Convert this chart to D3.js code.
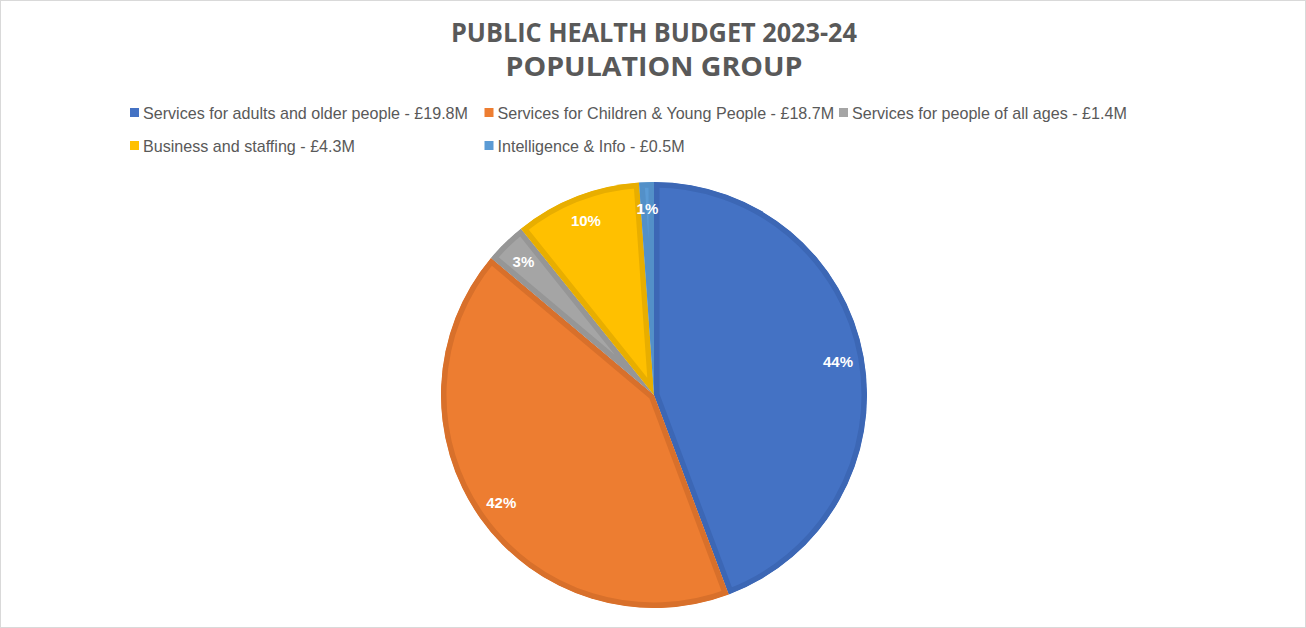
<!DOCTYPE html>
<html>
<head>
<meta charset="utf-8">
<script src="https://cdn.jsdelivr.net/npm/d3@7/dist/d3.min.js"></script>
<style>
  html, body { margin: 0; padding: 0; background: #fff; }
  svg { display: block; }
</style>
</head>
<body>
<svg id="chart" width="1306" height="628"></svg>
<script>
// Public health budget 2023-24 by population group (£M)
const titleLines = ["PUBLIC HEALTH BUDGET 2023-24", "POPULATION GROUP"];
const categories = [
  "Services for adults and older people",
  "Services for Children & Young People",
  "Services for people of all ages",
  "Business and staffing",
  "Intelligence & Info"
];
const budgets = [19.8, 18.7, 1.4, 4.3, 0.5];
const legendLabels = [
  "Services for adults and older people - £19.8M",
  "Services for Children & Young People - £18.7M",
  "Services for people of all ages - £1.4M",
  "Business and staffing - £4.3M",
  "Intelligence & Info - £0.5M"
];
const fillColors = ["#4472C4", "#ED7D31", "#A5A5A5", "#FFC000", "#5B9BD5"];
const edgeColors = ["#3C67B5", "#D8702B", "#969696", "#E8AE00", "#5390C8"];

const W = 1306, H = 628;
const svg = d3.select("#chart");
const font = "'Liberation Sans', Arial, sans-serif";
const titleFont = "'Open Sans', 'Liberation Sans', sans-serif";

// outer chart frame
svg.append("rect")
  .attr("x", 0.5).attr("y", 0.5).attr("width", W - 1).attr("height", H - 1)
  .attr("fill", "#fff").attr("stroke", "#d9d9d9");

// title, two centred lines
const titleWidths = [406, 297];
const title = svg.append("g");
titleLines.forEach((t, i) => {
  title.append("text")
    .attr("x", 654).attr("y", 42 + i * 34)
    .attr("text-anchor", "middle")
    .attr("font-family", titleFont).attr("font-weight", "bold")
    .attr("font-size", 26).attr("fill", "#595959")
    .attr("textLength", titleWidths[i]).attr("lengthAdjust", "spacingAndGlyphs")
    .text(t);
});

// legend laid out in a grid of three columns
const colX = d3.scaleLinear().domain([0, 1]).range([130, 484.5]);
const legend = svg.append("g");
let legendScale = null;
legendLabels.forEach((lab, i) => {
  const col = i % 3, row = Math.floor(i / 3);
  const x = colX(col), y = 113 + row * 33;
  legend.append("rect")
    .attr("x", x).attr("y", y - 5).attr("width", 9).attr("height", 9)
    .attr("fill", fillColors[i]);
  const txt = legend.append("text")
    .attr("x", x + 13).attr("y", y + 5.5)
    .attr("font-family", font).attr("font-size", 17).attr("fill", "#595959")
    .text(lab);
  const w = txt.node().getComputedTextLength();
  if (legendScale === null) legendScale = 325 / w;
  txt.attr("textLength", w * legendScale).attr("lengthAdjust", "spacingAndGlyphs");
});

// pie
const cx = 654, cy = 395, R = 213;
const pie = d3.pie().sort(null).value(d => d)(budgets);
const total = d3.sum(budgets);
const arc = d3.arc().innerRadius(0).outerRadius(R);
const labelArc = d3.arc().innerRadius(187).outerRadius(187);

const g = svg.append("g").attr("transform", `translate(${cx},${cy})`);
const defs = svg.append("defs");

pie.forEach((p, i) => {
  const id = "slice-clip-" + i;
  defs.append("clipPath").attr("id", id)
    .append("path").attr("d", arc(p));
  g.append("path")
    .attr("d", arc(p))
    .attr("fill", fillColors[i])
    .attr("stroke", edgeColors[i])
    .attr("stroke-width", 11)
    .attr("stroke-linejoin", "round")
    .attr("clip-path", `url(#${id})`);
});

pie.forEach((p, i) => {
  const [lx, ly] = labelArc.centroid(p);
  g.append("text")
    .attr("x", lx).attr("y", ly)
    .attr("dy", "0.36em")
    .attr("text-anchor", "middle")
    .attr("font-family", font).attr("font-weight", "bold")
    .attr("font-size", 15).attr("fill", "#fff")
    .text(Math.round(p.value / total * 100) + "%");
});
</script>
</body>
</html>
